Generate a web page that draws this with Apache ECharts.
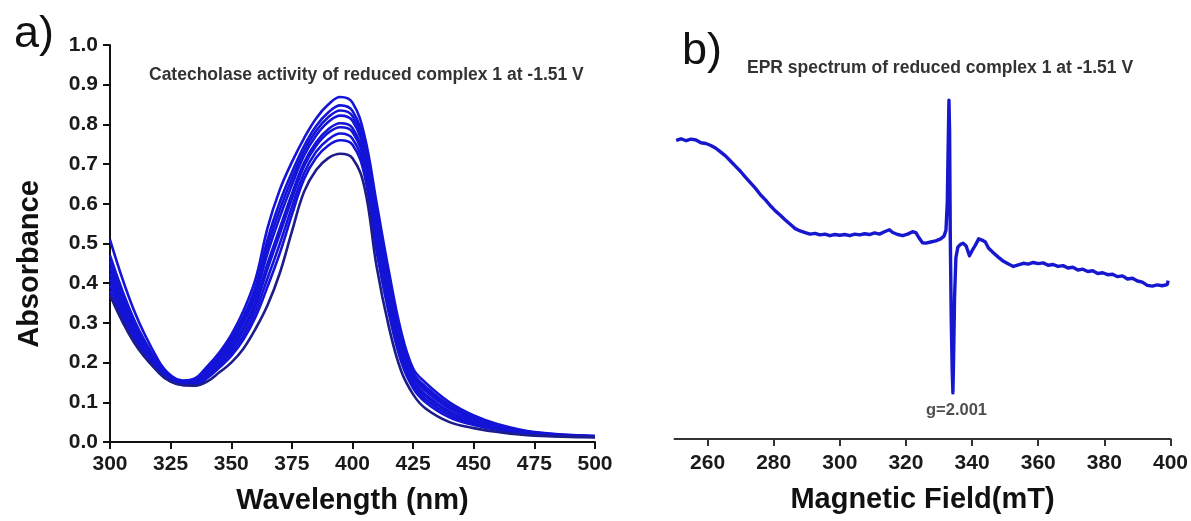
<!DOCTYPE html>
<html>
<head>
<meta charset="utf-8">
<script src="https://cdn.jsdelivr.net/npm/echarts@6/dist/echarts.min.js"></script>
<style>
html,body{margin:0;padding:0;background:#fff;}
#chart{width:1191px;height:521px;}
</style>
</head>
<body>
<div id="chart"></div>
<script>
// ---------- Panel a) UV-Vis spectra ----------
const wavelengths = [300,310,320,325,330,335,340,345,350,355,360,365,370,375,380,385,390,395,400,405,410,415,420,425,430,440,450,460,475,500];
const abs1 = [0.370,0.250,0.175,0.152,0.143,0.142,0.152,0.175,0.200,0.235,0.285,0.345,0.425,0.530,0.630,0.685,0.715,0.726,0.715,0.640,0.440,0.290,0.180,0.120,0.085,0.050,0.035,0.025,0.016,0.012];
const abs2 = [0.380,0.256,0.177,0.153,0.144,0.143,0.161,0.187,0.217,0.258,0.315,0.392,0.475,0.572,0.662,0.716,0.747,0.760,0.749,0.671,0.478,0.324,0.204,0.136,0.101,0.062,0.043,0.030,0.018,0.013];
const abs3 = [0.395,0.264,0.180,0.155,0.145,0.145,0.165,0.193,0.225,0.268,0.329,0.413,0.499,0.591,0.677,0.731,0.762,0.777,0.764,0.686,0.496,0.339,0.215,0.143,0.108,0.068,0.046,0.032,0.019,0.013];
const abs4 = [0.410,0.273,0.184,0.157,0.147,0.147,0.170,0.199,0.233,0.280,0.344,0.437,0.524,0.612,0.694,0.746,0.779,0.793,0.781,0.701,0.515,0.356,0.227,0.151,0.116,0.074,0.050,0.034,0.020,0.013];
const abs5 = [0.425,0.281,0.187,0.158,0.148,0.149,0.173,0.202,0.238,0.286,0.353,0.450,0.538,0.625,0.703,0.755,0.788,0.803,0.791,0.710,0.526,0.366,0.234,0.155,0.120,0.077,0.052,0.036,0.021,0.014];
const abs6 = [0.440,0.290,0.190,0.160,0.149,0.151,0.178,0.209,0.247,0.299,0.369,0.476,0.566,0.647,0.721,0.772,0.806,0.822,0.809,0.727,0.547,0.384,0.247,0.164,0.129,0.084,0.056,0.038,0.022,0.014];
const abs7 = [0.455,0.299,0.193,0.162,0.150,0.153,0.181,0.213,0.253,0.307,0.380,0.493,0.585,0.663,0.733,0.784,0.818,0.835,0.821,0.739,0.562,0.396,0.256,0.169,0.134,0.088,0.059,0.040,0.023,0.014];
const abs8 = [0.470,0.307,0.196,0.163,0.152,0.155,0.184,0.218,0.260,0.316,0.391,0.511,0.604,0.679,0.745,0.796,0.830,0.848,0.834,0.751,0.576,0.409,0.265,0.175,0.140,0.093,0.062,0.042,0.024,0.015];
const abs9 = [0.510,0.330,0.205,0.168,0.155,0.160,0.190,0.225,0.270,0.330,0.410,0.540,0.635,0.705,0.765,0.815,0.850,0.869,0.855,0.770,0.600,0.430,0.280,0.185,0.150,0.100,0.067,0.045,0.025,0.015];
const uvSeries = [abs1,abs2,abs3,abs4,abs5,abs6,abs7,abs8,abs9];

// ---------- Panel b) EPR spectrum ----------
const field = [250.5,252,253.5,255,256.5,258,259.5,261,262.5,264,265.5,267,268.5,270,271.5,273,274.5,276,277.5,279,280.5,282,283.5,285,286.5,288,289.5,291,292.5,294,295.5,297,298.5,300,301.5,303,304.5,306,307.5,309,310.5,312,313.5,315,316,317.5,319,320.5,322,323,324,325,326,327.5,329,330.5,331.5,332.1,332.5,332.8,333.0,333.2,333.4,333.7,334.0,334.2,334.4,334.7,335.1,335.7,336.5,337.3,338.2,339.2,340.0,341.0,342.0,343.0,344.0,345.0,346.5,348.0,349.5,351.0,352.5,354.0,355.5,357.0,358.5,360.0,361.5,363.0,364.5,366.0,367.5,369.0,370.5,372.0,373.5,375.0,376.5,378.0,379.5,381.0,382.5,384.0,385.5,387.0,388.5,390.0,391.5,393.0,394.5,396.0,397.5,399.0,399.3];
const eprIntensity = [0.758,0.762,0.757,0.761,0.759,0.752,0.750,0.745,0.738,0.728,0.718,0.705,0.692,0.679,0.664,0.650,0.636,0.620,0.607,0.592,0.579,0.568,0.556,0.545,0.534,0.528,0.524,0.520,0.522,0.518,0.520,0.516,0.519,0.517,0.519,0.516,0.520,0.518,0.521,0.519,0.523,0.520,0.526,0.531,0.524,0.519,0.516,0.520,0.526,0.524,0.510,0.498,0.497,0.500,0.503,0.508,0.515,0.530,0.600,0.760,0.860,0.780,0.520,0.300,0.170,0.117,0.200,0.360,0.460,0.487,0.494,0.497,0.490,0.465,0.478,0.492,0.508,0.505,0.500,0.484,0.472,0.461,0.451,0.444,0.438,0.442,0.446,0.444,0.448,0.445,0.447,0.441,0.443,0.438,0.440,0.434,0.436,0.429,0.431,0.425,0.427,0.420,0.422,0.417,0.418,0.412,0.414,0.406,0.408,0.401,0.398,0.390,0.388,0.391,0.389,0.392,0.402];
const eprTicks = [260,280,300,320,340,360,380,400];
const gLabel = {field: 335.3, value: 0.0, text: 'g=2.001'};

const FONT = '"Liberation Sans", Arial, Helvetica, sans-serif';
const chart = echarts.init(document.getElementById('chart'), null, {renderer: 'canvas'});

const axisLineStyle = {color: '#111', width: 2};
const labelStyle = {color: '#1a1a1a', fontFamily: FONT, fontWeight: 'bold', fontSize: 21};
const nameStyle = {color: '#111', fontFamily: FONT, fontWeight: 'bold', fontSize: 29};

const series = uvSeries.map((arr, i) => ({
  type: 'line',
  xAxisIndex: 0, yAxisIndex: 0,
  data: wavelengths.map((w, k) => [w, arr[k]]),
  smooth: 0.4,
  showSymbol: false,
  silent: true,
  lineStyle: {color: i === 0 ? '#1c1c8a' : '#1414d8', width: 2.6},
  z: 10 - i
}));
series.push({
  type: 'line',
  xAxisIndex: 1, yAxisIndex: 1,
  data: field.map((f, k) => [f, eprIntensity[k]]),
  smooth: false,
  showSymbol: false,
  silent: true,
  lineStyle: {color: '#1717cf', width: 3.4, join: 'round'}
});
series.push({
  type: 'scatter',
  xAxisIndex: 1, yAxisIndex: 1,
  data: [[gLabel.field, gLabel.value]],
  symbolSize: 0,
  silent: true,
  label: {show: true, formatter: gLabel.text, position: 'inside', offset: [0, -29], fontFamily: FONT, fontWeight: 'bold', fontSize: 16.5, color: '#222'}
});

chart.setOption({
  animation: false,
  backgroundColor: '#fff',
  title: [
    {text: 'a)', left: 9, top: 7, textStyle: {fontFamily: FONT, fontWeight: 'normal', fontSize: 45, color: '#111'}},
    {text: 'b)', left: 677, top: 24, textStyle: {fontFamily: FONT, fontWeight: 'normal', fontSize: 45, color: '#111'}},
    {text: 'Catecholase activity of reduced complex 1 at -1.51 V', left: 144, top: 61, textStyle: {fontFamily: FONT, fontWeight: 'bold', fontSize: 17.5, color: '#333'}},
    {text: 'EPR spectrum of reduced complex 1 at -1.51 V', left: 742, top: 54, textStyle: {fontFamily: FONT, fontWeight: 'bold', fontSize: 17.5, color: '#333'}}
  ],
  graphic: [
    {type: 'text', x: 30, y: 264, rotation: Math.PI / 2,
     style: {text: 'Absorbance', font: 'bold 29px ' + FONT, fill: '#111', textAlign: 'center', textVerticalAlign: 'middle'}}
  ],
  grid: [
    {left: 110, top: 45, width: 485, height: 397},
    {left: 674.5, top: 45, width: 496, height: 394}
  ],
  xAxis: [
    {
      gridIndex: 0, type: 'value', min: 300, max: 500, interval: 25,
      name: 'Wavelength (nm)', nameLocation: 'middle', nameGap: 44, nameTextStyle: nameStyle,
      axisLine: {show: true, lineStyle: axisLineStyle},
      axisTick: {show: true, inside: false, length: 7, lineStyle: axisLineStyle},
      axisLabel: Object.assign({margin: 12}, labelStyle),
      splitLine: {show: false}
    },
    {
      gridIndex: 1, type: 'value', min: 250, max: 400,
      name: 'Magnetic Field(mT)', nameLocation: 'middle', nameGap: 46, nameTextStyle: nameStyle,
      axisLine: {show: true, onZero: false, lineStyle: {color: '#333', width: 2}},
      axisTick: {show: true, inside: false, length: 7, customValues: eprTicks, lineStyle: {color: '#333', width: 2}},
      axisLabel: Object.assign({margin: 14, customValues: eprTicks}, labelStyle),
      splitLine: {show: false}
    }
  ],
  yAxis: [
    {
      gridIndex: 0, type: 'value', min: 0, max: 1, interval: 0.1,
      axisLine: {show: true, lineStyle: axisLineStyle},
      axisTick: {show: true, inside: false, length: 7, lineStyle: axisLineStyle},
      axisLabel: Object.assign({margin: 12, formatter: v => v.toFixed(1)}, labelStyle),
      splitLine: {show: false}
    },
    {
      gridIndex: 1, type: 'value', min: 0, max: 1, show: false,
      splitLine: {show: false}
    }
  ],
  series: series
});
</script>
</body>
</html>
